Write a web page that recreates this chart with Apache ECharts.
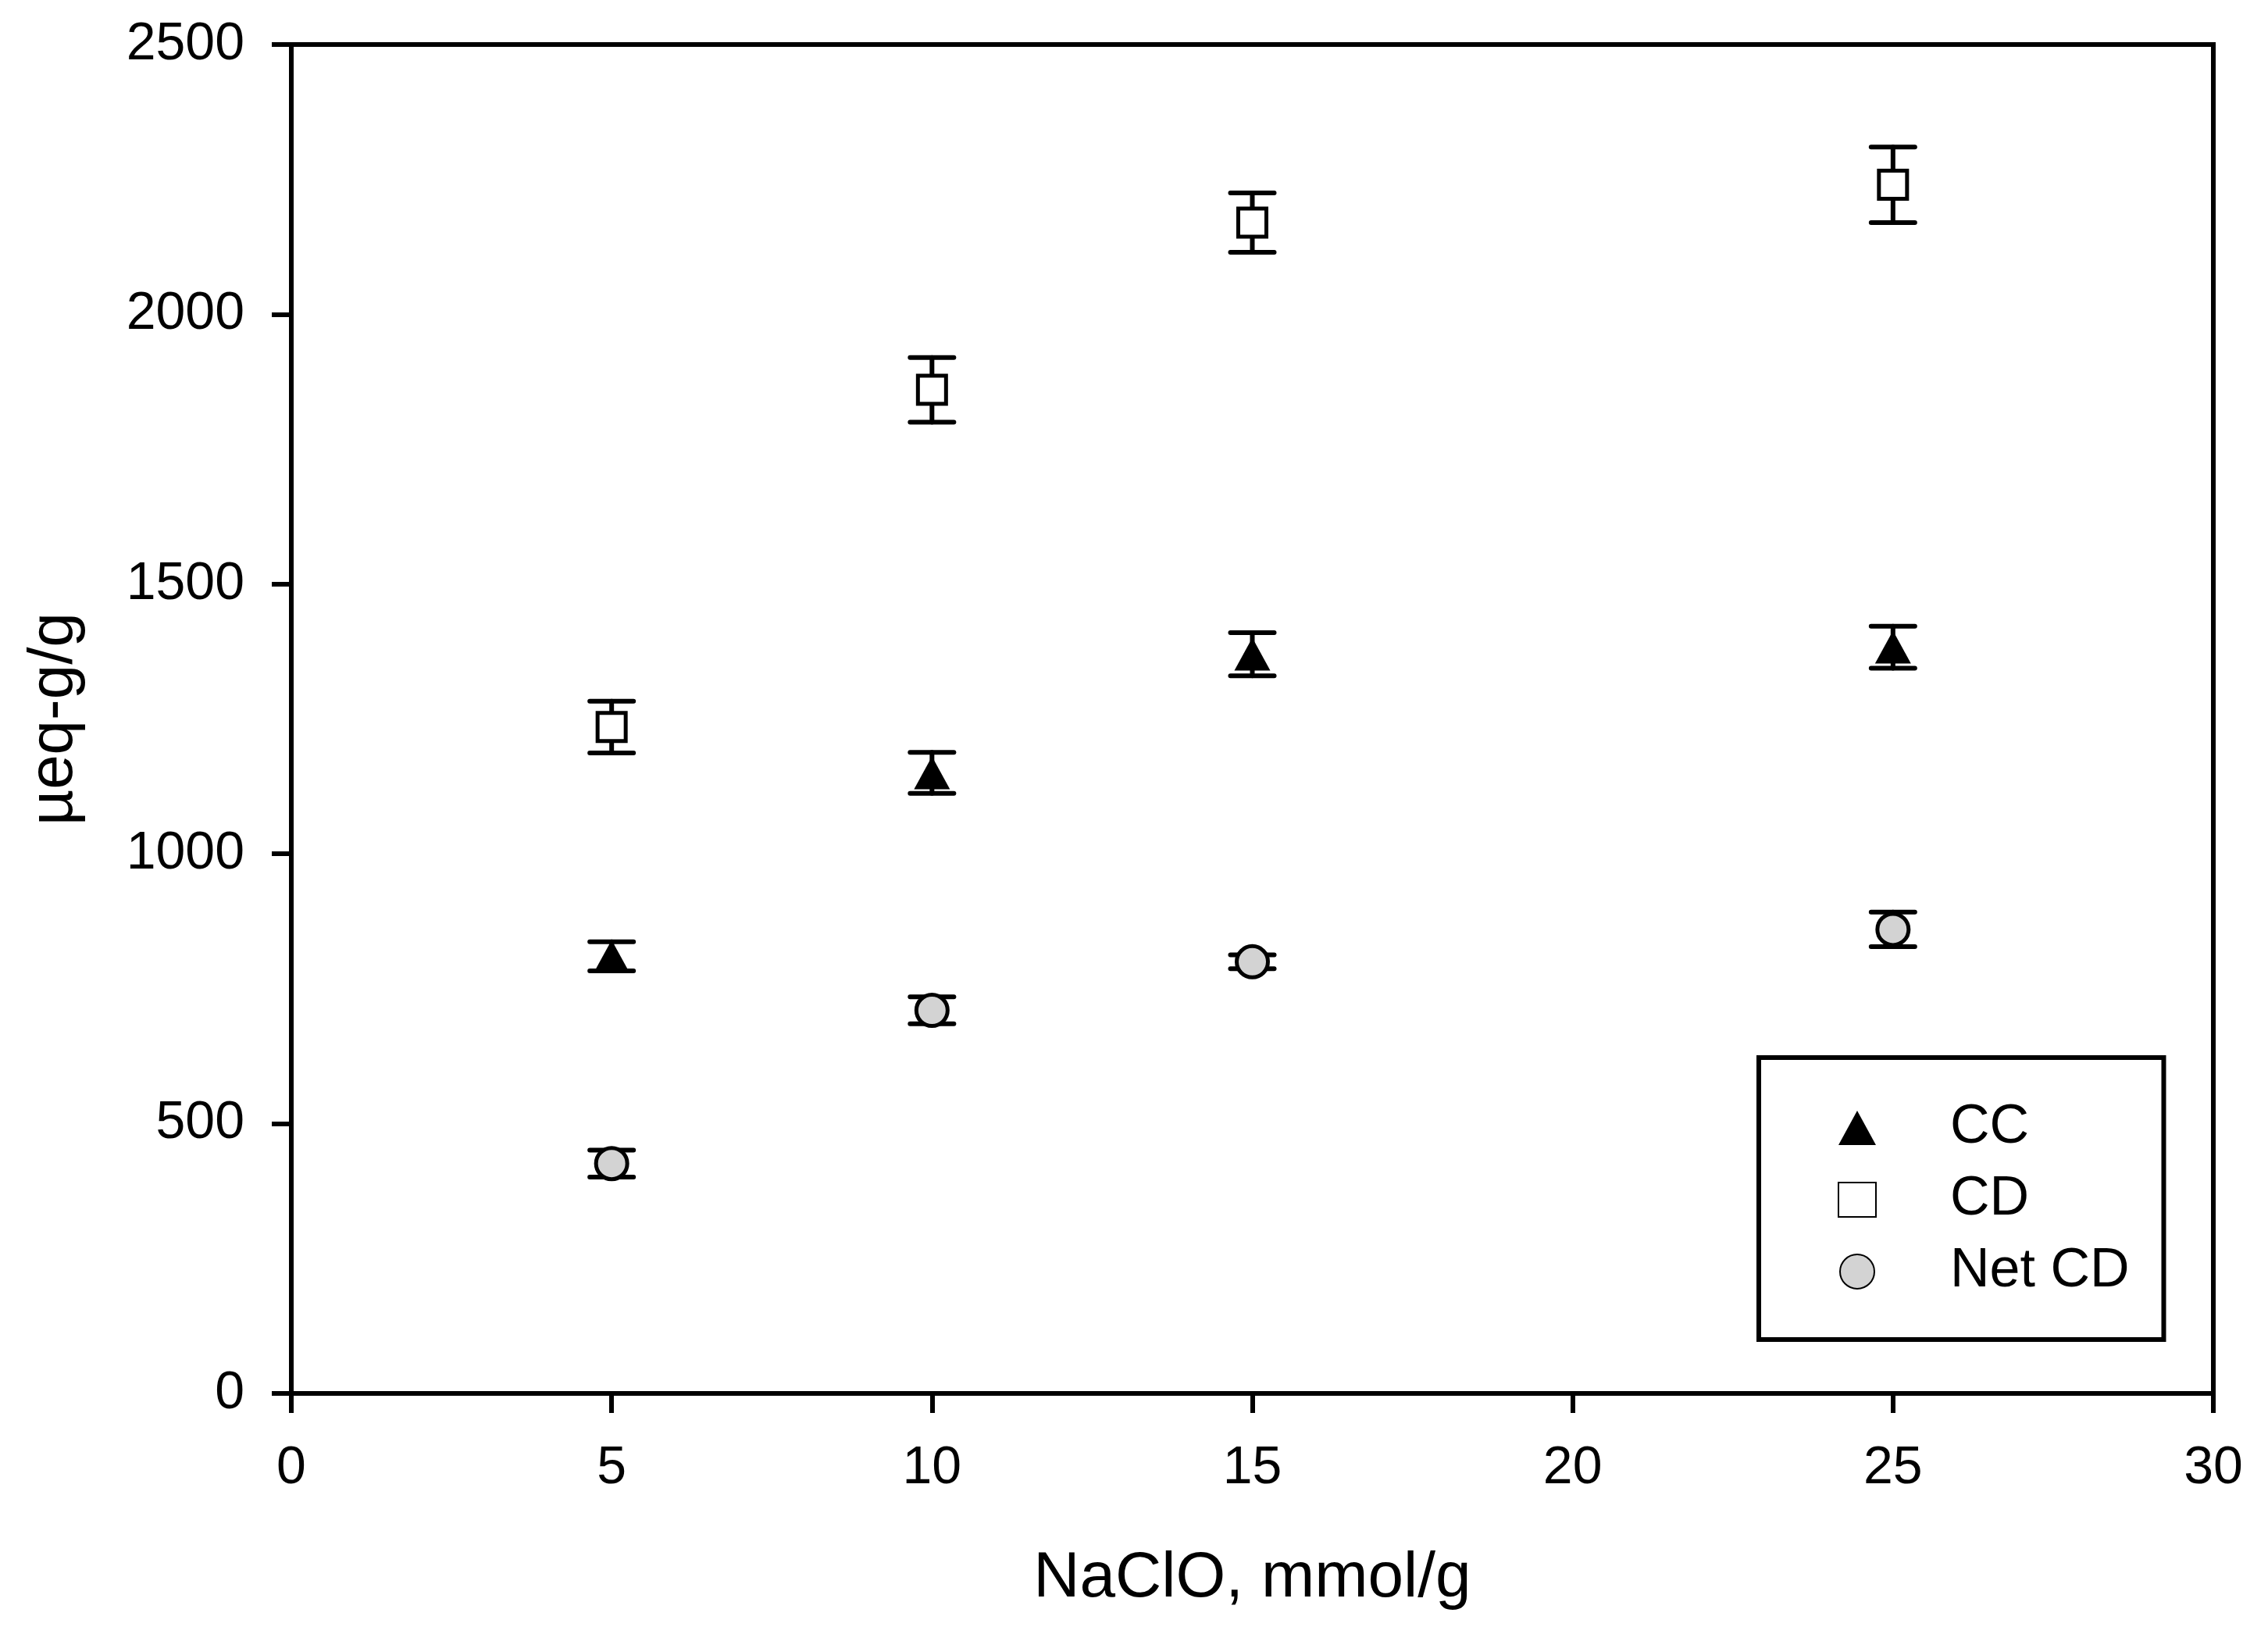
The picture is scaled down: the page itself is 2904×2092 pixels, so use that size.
<!DOCTYPE html>
<html>
<head>
<meta charset="utf-8">
<script src="https://cdn.jsdelivr.net/npm/echarts@6/dist/echarts.min.js"></script>
<style>
  html, body { margin: 0; padding: 0; background: #fff; }
  #chart { width: 2904px; height: 2092px; }
</style>
</head>
<body>
<div id="chart"></div>
<script>
// NaClO dose, mmol/g
var doses = [5, 10, 15, 25];

// means and error (+/-)
var ccValues = [810, 1150, 1370, 1383];
var ccErrors = [27, 38, 40, 39];
var cdValues = [1235, 1860, 2170, 2240];
var cdErrors = [48, 60, 55, 70];
var netCdValues = [426, 710, 800, 860];
var netCdErrors = [25, 25, 13, 32];

var xTicks = [0, 5, 10, 15, 20, 25, 30];
var yTicks = [0, 500, 1000, 1500, 2000, 2500];

var font = 'Liberation Sans, Arial, sans-serif';
var chart = echarts.init(document.getElementById('chart'));

function points(vals) {
	var out = [];
	for (var i = 0; i < doses.length; i++) {
		out.push([doses[i], vals[i]]);
	}
	return out;
}

function bars(vals, errs) {
	var out = [];
	for (var i = 0; i < doses.length; i++) {
		out.push([doses[i], vals[i] - errs[i], vals[i] + errs[i]]);
	}
	return out;
}

function renderErrorBar(params, api) {
	var lo = api.coord([api.value(0), api.value(1)]);
	var hi = api.coord([api.value(0), api.value(2)]);
	var half = 28;
	var style = { stroke: '#000', lineWidth: 6, lineCap: 'round' };
	return {
		type: 'group',
		children: [
			{ type: 'line', shape: { x1: lo[0], y1: lo[1], x2: hi[0], y2: hi[1] }, style: style },
			{ type: 'line', shape: { x1: lo[0] - half, y1: lo[1], x2: lo[0] + half, y2: lo[1] }, style: style },
			{ type: 'line', shape: { x1: hi[0] - half, y1: hi[1], x2: hi[0] + half, y2: hi[1] }, style: style }
		]
	};
}

function errorSeries(name, vals, errs) {
	return {
		name: name,
		type: 'custom',
		renderItem: renderErrorBar,
		data: bars(vals, errs),
		encode: { x: 0, y: [1, 2] },
		z: 2,
		silent: true
	};
}

chart.setOption({
	animation: false,
	backgroundColor: '#fff',
	grid: {
		left: 373,
		right: 70,
		top: 57,
		bottom: 308,
		show: true,
		borderColor: '#000',
		borderWidth: 6,
		outerBoundsMode: 'none'
	},
	xAxis: {
		type: 'value',
		min: 0,
		max: 30,
		interval: 5,
		name: 'NaClO, mmol/g',
		nameLocation: 'middle',
		nameGap: 196,
		nameTextStyle: { fontFamily: font, fontSize: 82, color: '#000' },
		axisLine: { show: true, onZero: false, lineStyle: { color: '#000', width: 6 } },
		axisTick: { show: true, inside: false, length: 25, lineStyle: { color: '#000', width: 6 } },
		axisLabel: {
			fontFamily: font, fontSize: 68, color: '#000', margin: 62,
			formatter: function(v) { return xTicks.indexOf(v) >= 0 ? String(v) : ''; }
		},
		splitLine: { show: false }
	},
	yAxis: {
		type: 'value',
		min: 0,
		max: 2500,
		interval: 500,
		name: 'µeq-g/g',
		nameLocation: 'middle',
		nameGap: 263,
		nameRotate: 90,
		nameTextStyle: { fontFamily: font, fontSize: 80, color: '#000' },
		axisLine: { show: true, onZero: false, lineStyle: { color: '#000', width: 6 } },
		axisTick: { show: true, inside: false, length: 25, lineStyle: { color: '#000', width: 6 } },
		axisLabel: {
			fontFamily: font, fontSize: 68, color: '#000', margin: 60,
			formatter: function(v) { return yTicks.indexOf(v) >= 0 ? String(v) : ''; }
		},
		splitLine: { show: false }
	},
	legend: {
		orient: 'vertical',
		left: 2252,
		top: 1354,
		padding: [55, 44, 52, 101],
		itemGap: 22,
		itemWidth: 48,
		itemHeight: 44,
		borderColor: '#000',
		borderWidth: 6,
		backgroundColor: '#fff',
		data: ['CC', 'CD', 'Net CD'],
		textStyle: {
			fontFamily: font, fontSize: 70, color: '#000',
			lineHeight: 50, padding: [0, 0, 0, 90]
		}
	},
	series: [
		errorSeries('CC err', ccValues, ccErrors),
		errorSeries('CD err', cdValues, cdErrors),
		errorSeries('Net CD err', netCdValues, netCdErrors),
		{
			name: 'CC',
			type: 'scatter',
			symbol: 'triangle',
			symbolSize: [46, 42],
			data: points(ccValues),
			itemStyle: { color: '#000', borderWidth: 0, opacity: 1 },
			z: 5
		},
		{
			name: 'CD',
			type: 'scatter',
			symbol: 'rect',
			symbolSize: 36,
			data: points(cdValues),
			itemStyle: { color: '#fff', borderColor: '#000', borderWidth: 5, opacity: 1 },
			z: 5
		},
		{
			name: 'Net CD',
			type: 'scatter',
			symbol: 'circle',
			symbolSize: 40,
			data: points(netCdValues),
			itemStyle: { color: '#d3d3d3', borderColor: '#000', borderWidth: 5, opacity: 1 },
			z: 5
		}
	]
});
</script>
</body>
</html>
